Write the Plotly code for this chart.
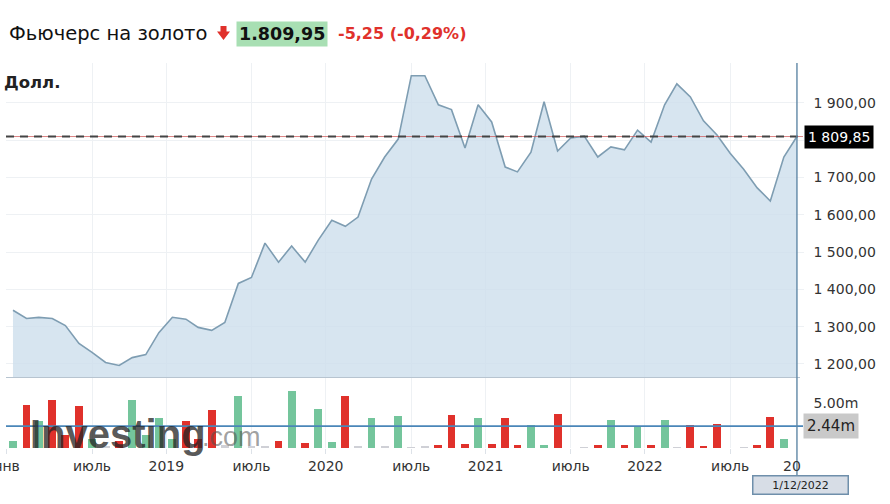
import pandas as pd
import plotly.graph_objects as go

# monthly gold futures closes, Jan 2018 .. Dec 2022
months = pd.date_range("2018-01-01", periods=60, freq="MS") + pd.Timedelta(days=14)
close = [
    1344, 1322, 1325, 1322, 1303, 1255, 1231, 1204, 1196, 1217, 1225, 1284,
    1325, 1320, 1298, 1290, 1311, 1416, 1432, 1524, 1473, 1516, 1473, 1532,
    1585, 1569, 1594, 1696, 1755, 1803, 1973, 1973, 1895, 1882, 1779, 1895,
    1849, 1728, 1715, 1768, 1903, 1771, 1806, 1811, 1755, 1782, 1774, 1827,
    1795, 1895, 1951, 1916, 1852, 1814, 1765, 1722, 1672, 1637, 1755, 1809.85,
]
# volume in millions, and bar colour class (r = red, g = green, n = neutral)
volume = [
    0.74, 4.8, 3.0, 5.4, 1.5, 4.7, 1.0, 0.2, 0.8, 5.3, 1.5, 3.3,
    1.0, 3.0, 1.0, 4.2, 0.3, 5.85, 0.2, 0.2, 0.8, 6.4, 0.55, 4.4,
    0.63, 5.8, 0.2, 3.3, 0.2, 3.6, 0.05, 0.15, 0.35, 3.65, 0.4, 3.3,
    0.45, 3.3, 0.3, 2.6, 0.3, 3.8, 0.0, 0.1, 0.3, 3.15, 0.3, 2.45,
    0.3, 3.15, 0.1, 2.6, 0.2, 2.7, 0.0, 0.1, 0.3, 3.45, 0.95, 0.0,
]
vol_class = list(
    "grgrrrgnrggg"
    "grrrngnnrgrg"
    "grngngnnrrrg"
    "rrrggrnnrgrg"
    "rgnrrrnnrrgn"
)
tick_dates = ["2018-01-01", "2018-07-15", "2019-01-01", "2019-07-15", "2020-01-01",
              "2020-07-15", "2021-01-01", "2021-07-15", "2022-01-01", "2022-07-15"]
tick_text = ["янв", "июль", "2019", "июль", "2020", "июль", "2021", "июль", "2022", "июль"]
price_ticks = [1200, 1300, 1400, 1500, 1600, 1700, 1800, 1900]
price_labels = ["1 200,00", "1 300,00", "1 400,00", "1 500,00", "1 600,00", "1 700,00", "", "1 900,00"]
last_price = 1809.85
avg_volume = 2.44

W, H = 890, 504
FONT = "DejaVu Sans"


def px(x):
    return x / W


def py(y):
    return 1 - y / H


colors = {"r": "#e0312b", "g": "#74c59c", "n": "#cfd0d6"}

fig = go.Figure()
fig.add_trace(go.Scatter(
    x=months, y=close, mode="lines", yaxis="y",
    line=dict(color="#7e9db2", width=1.6),
    fill="tozeroy", fillcolor="rgba(205,222,236,0.8)",
    hoverinfo="skip", showlegend=False,
))
fig.add_trace(go.Bar(
    x=months, y=volume, yaxis="y2",
    marker=dict(color=[colors[c] for c in vol_class], line_width=0),
    width=18 * 86400000, hoverinfo="skip", showlegend=False,
))

fig.update_layout(
    width=W, height=H,
    margin=dict(l=0, r=0, t=0, b=0, autoexpand=False),
    paper_bgcolor="white", plot_bgcolor="white",
    font=dict(family=FONT, size=14, color="#333"),
    xaxis=dict(
        domain=[px(6), px(803.5)], range=["2017-12-30", "2022-12-30"],
        anchor="y2", tickvals=tick_dates, ticktext=tick_text, automargin=False,
        ticklabeloverflow="allow",
        showgrid=True, gridcolor="#eef1f4", gridwidth=1,
        ticks="outside", ticklen=5, tickcolor="#dde2e8",
        showline=False, zeroline=False,
        tickfont=dict(size=14, color="#333"),
    ),
    yaxis=dict(
        domain=[py(377), py(63)], range=[1165, 2007], side="right", automargin=False,
        tickvals=price_ticks, ticktext=price_labels,
        showgrid=True, gridcolor="#eef1f4", zeroline=False,
        ticks="", ticklabelstandoff=9,
        tickfont=dict(size=14, color="#333"),
    ),
    yaxis2=dict(
        domain=[py(448), py(378)], range=[0, 7.8], side="right", automargin=False,
        tickvals=[5], ticktext=["5.00m"], showgrid=False, zeroline=False,
        ticks="", ticklabelstandoff=9,
        tickfont=dict(size=14, color="#333"),
    ),
    bargap=0,
)

shapes = [
    # bottom border of price panel
    dict(type="line", xref="paper", yref="paper", x0=px(6), x1=px(800), y0=py(377.5), y1=py(377.5),
         line=dict(color="#b7c4d0", width=1.2)),
    # last price lines
    dict(type="line", xref="paper", yref="y", x0=px(6), x1=px(803), y0=last_price, y1=last_price,
         line=dict(color="rgba(205,80,80,0.7)", width=1)),
    dict(type="line", xref="paper", yref="y", x0=px(6), x1=px(803), y0=last_price, y1=last_price,
         line=dict(color="#444", width=2, dash="8px,6px")),
    # volume average line
    dict(type="line", xref="paper", yref="y2", x0=px(6), x1=px(803), y0=avg_volume, y1=avg_volume,
         line=dict(color="#4a86b8", width=1.6)),
    # crosshair
    dict(type="line", xref="x", yref="paper", x0=months[-1], x1=months[-1], y0=py(476), y1=py(63),
         line=dict(color="#5f87a6", width=1.4)),
    # red down arrow
    dict(type="path", xref="paper", yref="paper", fillcolor="#e0312b", line=dict(width=0),
         path="M {} {} L {} {} L {} {} L {} {} L {} {} L {} {} L {} {} Z".format(
             px(220.5), py(26), px(226.5), py(26), px(226.5), py(31.5), px(230), py(31.5),
             px(223.5), py(40), px(217), py(31.5), px(220.5), py(31.5))),
]
fig.update_layout(shapes=shapes)

annotations = [
    dict(text="Фьючерс на золото", x=px(7), y=py(34), xanchor="left", yanchor="middle",
         font=dict(size=19.5, color="#111")),
    dict(text="<b>1.809,95</b>", x=px(236), y=py(34.5), xanchor="left", yanchor="middle",
         bgcolor="#a8dfb3", borderpad=2, font=dict(size=17.5, color="#111")),
    dict(text="<b>-5,25 (-0,29%)</b>", x=px(336), y=py(34), xanchor="left", yanchor="middle",
         font=dict(size=16, color="#e0312b")),
    dict(text="<b>Долл.</b>", x=px(2), y=py(83), xanchor="left", yanchor="middle",
         font=dict(size=16.5, color="#222")),
    dict(text="1 809,85", xref="paper", yref="y", x=px(804), y=last_price, xanchor="left", yanchor="middle",
         bgcolor="#000", borderpad=3, font=dict(size=14, color="white")),
    dict(text="2.44m", xref="paper", yref="y2", x=px(803), y=avg_volume, xanchor="left", yanchor="middle",
         bgcolor="#c9c9c9", borderpad=3, font=dict(size=15, color="#222")),
    dict(text="20", x=px(803), y=py(466), xanchor="right", yanchor="middle",
         font=dict(size=14, color="#333")),
    dict(text="1/12/2022", x=px(800), y=py(485), xanchor="center", yanchor="middle",
         bgcolor="#d7dde6", bordercolor="#6f8fab", borderwidth=1.5, borderpad=2,
         width=90, font=dict(size=11, color="#222")),
    # watermark
    dict(text="<b>Investing</b>", x=px(28), y=py(434), xanchor="left", yanchor="middle",
         font=dict(family="Liberation Sans", size=40, color="rgba(35,35,35,0.75)")),
    dict(text=".com", x=px(200), y=py(437), xanchor="left", yanchor="middle",
         font=dict(family="Liberation Sans", size=27, color="rgba(80,80,80,0.55)")),
]
for a in annotations:
    a.setdefault("xref", "paper")
    a.setdefault("yref", "paper")
    a["showarrow"] = False
fig.update_layout(annotations=annotations)

# the page body has a default 8px margin; drop it so the figure sits at the window origin
fig.write_html("out.html", config={"displayModeBar": False},
               post_script="document.body.style.margin='0';")
